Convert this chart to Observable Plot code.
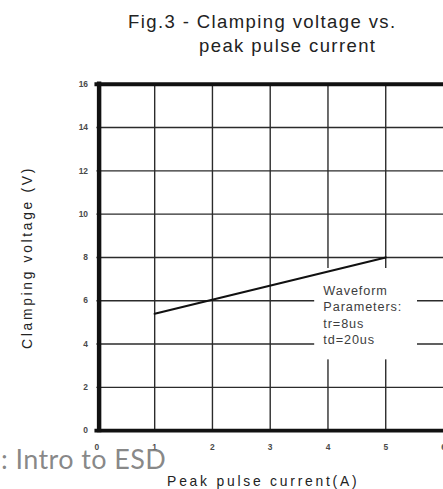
<!DOCTYPE html>
<html>
<head>
<meta charset="utf-8">
<script src="https://cdn.jsdelivr.net/npm/d3@7"></script>
<script src="https://cdn.jsdelivr.net/npm/@observablehq/plot@0.6"></script>
<style>
  html, body { margin: 0; padding: 0; background: #fff; overflow: hidden; }
  #wrap { position: relative; width: 443px; height: 489px; overflow: hidden; background: #fff; }
  #title { font-family: "Liberation Sans", Arial, sans-serif; font-size: 18.5px; line-height: 24px;
           color: #222; padding-top: 10px; height: 48px; letter-spacing: 1.4px; white-space: nowrap; }
  #title div { position: relative; }
  #overlay { position: absolute; left: 1px; top: 446px; font-family: Lato, "Open Sans", sans-serif;
             font-size: 27px; line-height: 26px; letter-spacing: 0.4px; color: rgba(115,115,115,0.85); white-space: nowrap; }
</style>
</head>
<body>
<div id="wrap">
  <div id="title">
    <div style="left:128px">Fig.3 - Clamping voltage vs.</div>
    <div style="left:199px">peak pulse current</div>
  </div>
  <div id="chart"></div>
  <div id="overlay">: Intro to ESD</div>
</div>
<script>
// ---- data ----
const xTicks = [0, 1, 2, 3, 4, 5, 6];
const yTicks = [0, 2, 4, 6, 8, 10, 12, 14, 16];
const xGrid = [1, 2, 3, 4, 5];
const yGrid = [2, 4, 6, 8, 10, 12, 14];
const peakCurrent = [1, 5];        // A
const clampVoltage = [5.4, 8.0];   // V
const noteLines = ["Waveform", "Parameters:", "tr=8us", "td=20us"];
const noteBox = [{x1: 3.77, x2: 5.55, y1: 3.27, y2: 7.49, x: 3.92, y: 5.37}];
const xLabel = "Peak pulse current(A)";
const yLabel = "Clamping voltage (V)";

const series = peakCurrent.map((c, i) => ({current: c, voltage: clampVoltage[i]}));
const note = noteBox.map(d => ({...d, text: noteLines.join("\n")}));

const plot = Plot.plot({
  width: 447,
  height: 431,
  marginTop: 26,
  marginBottom: 55.5,
  marginLeft: 97.3,
  marginRight: 0,
  x: {domain: [0, 6]},
  y: {domain: [0, 16]},
  style: {fontFamily: "'Liberation Sans', Arial, sans-serif", background: "transparent", overflow: "visible"},
  marks: [
    Plot.ruleX(xGrid, {stroke: "#2b2b2b", strokeWidth: 1.4}),
    Plot.ruleY(yGrid, {stroke: "#2b2b2b", strokeWidth: 1.4}),
    Plot.rect(note, {x1: "x1", x2: "x2", y1: "y1", y2: "y2", fill: "white"}),
    Plot.line(series, {x: "current", y: "voltage", stroke: "#111", strokeWidth: 2.2}),
    Plot.text(note, {x: "x", y: "y", text: "text", textAnchor: "start", lineAnchor: "middle",
      lineHeight: 1.28, fontSize: 12.8, fill: "#3d3d3d"}),
    Plot.ruleY([0, 16], {stroke: "#111", strokeWidth: 4, strokeLinecap: "square"}),
    Plot.ruleX([0], {stroke: "#111", strokeWidth: 4.5, dx: 2.2, strokeLinecap: "square"}),
    Plot.axisX(xTicks, {tickSize: 0, tickPadding: 14, fontSize: 8.5, fontWeight: "bold", color: "#4a4a4a", label: null}),
    Plot.axisY(yTicks, {tickSize: 0, tickPadding: 9, fontSize: 8.5, fontWeight: "bold", color: "#4a4a4a", label: null}),
    Plot.text([yLabel], {frameAnchor: "left", textAnchor: "middle", lineAnchor: "middle", rotate: -90, dx: -70.5, fontSize: 14, fill: "#222"}),
    Plot.text([xLabel], {frameAnchor: "bottom", textAnchor: "middle", lineAnchor: "middle", dx: -7, dy: 51.5, fontSize: 14, fill: "#222"})
  ]
});
document.getElementById("chart").appendChild(plot);
d3.select(plot).selectAll("text")
  .filter(function () { return this.textContent === yLabel; })
  .attr("letter-spacing", 2.7);
d3.select(plot).selectAll("text")
  .filter(function () { return this.textContent === xLabel; })
  .attr("letter-spacing", 2.8);
d3.select(plot).selectAll("tspan")
  .filter(function () { return noteLines.includes(this.textContent); })
  .attr("letter-spacing", 0.9);
</script>
</body>
</html>
